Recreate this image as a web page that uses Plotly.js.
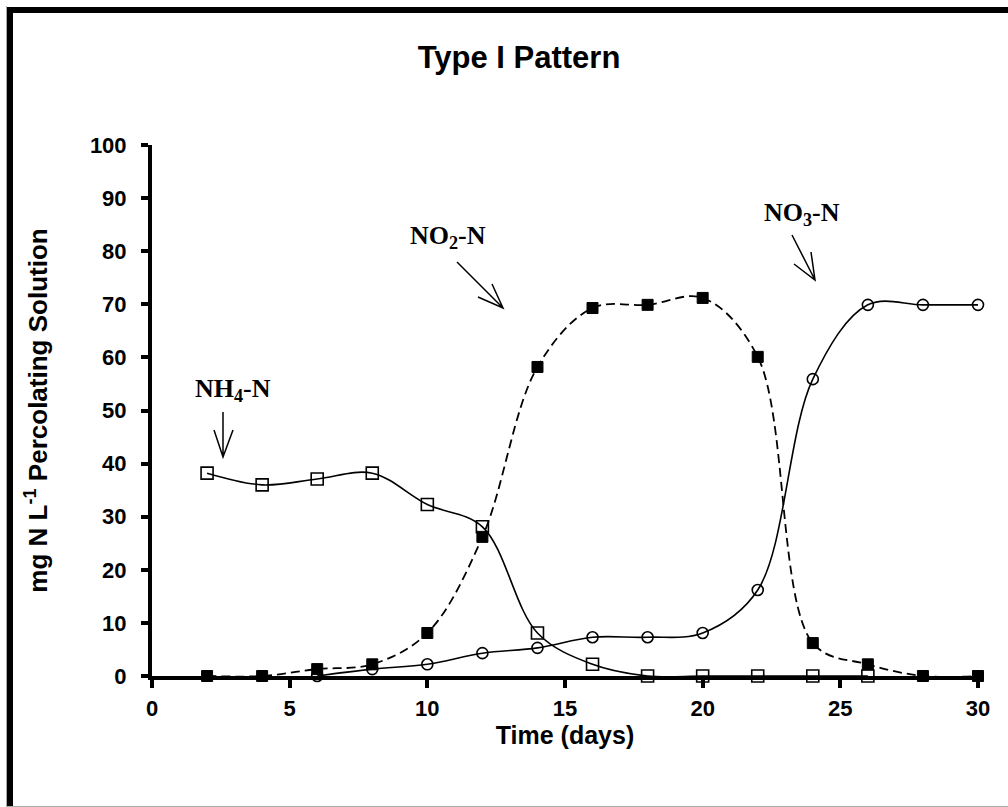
<!DOCTYPE html>
<html>
<head>
<meta charset="utf-8">
<script src="https://cdn.plot.ly/plotly-3.0.1.min.js"></script>
<style>
  html, body { margin: 0; padding: 0; background: #fff; }
  #wrap { position: relative; width: 1008px; height: 807px; }
  #chart { position: absolute; left: 0; top: 0; width: 1008px; height: 807px; }
  #frameOuter { position: absolute; left: 6px; top: 6px; right: 0; bottom: 0;
    border-left: 1px solid #aaa; border-bottom: 1px solid #aaa; pointer-events: none; }
  #frameInner { position: absolute; left: 7px; top: 7px; right: 0; bottom: 1px;
    border-left: 6px solid #000; border-top: 6px solid #000; pointer-events: none; }
</style>
</head>
<body>
<div id="wrap">
  <div id="chart"></div>
  <div id="frameOuter"></div>
  <div id="frameInner"></div>
</div>
<script>
// ---- data ----
var daysNH4 = [2, 4, 6, 8, 10, 12, 14, 16, 18, 20, 22, 24, 26];
var nh4 = [38.2, 36.0, 37.1, 38.2, 32.3, 28.1, 8.1, 2.2, 0, 0, 0, 0, 0];

var daysNO2 = [2, 4, 6, 8, 10, 12, 14, 16, 18, 20, 22, 24, 26, 28, 30];
var no2 = [0, 0, 1.3, 2.2, 8.1, 26.2, 58.2, 69.3, 69.9, 71.2, 60.1, 6.2, 2.2, 0, 0];

var daysNO3 = [6, 8, 10, 12, 14, 16, 18, 20, 22, 24, 26, 28, 30];
var no3 = [0, 1.3, 2.2, 4.3, 5.3, 7.3, 7.3, 8.1, 16.2, 55.9, 69.9, 69.9, 69.9];

var xTicks = [0, 5, 10, 15, 20, 25, 30];
var yTicks = [0, 10, 20, 30, 40, 50, 60, 70, 80, 90, 100];

// ---- layout geometry (pixels) ----
var W = 1008, H = 807, L = 152, R = 30, T = 145, B = 131;
var pw = W - L - R, ph = H - T - B;
function px(x) { return (x - L) / pw; }
function py(y) { return (H - B - y) / ph; }
function arrowPath(x0, y0, x1, y1, ax1, ay1, ax2, ay2) {
  return 'M' + px(x0) + ',' + py(y0) + 'L' + px(x1) + ',' + py(y1) +
         'M' + px(ax1) + ',' + py(ay1) + 'L' + px(x1) + ',' + py(y1) +
         'L' + px(ax2) + ',' + py(ay2);
}

var traces = [
  {
    x: daysNO3, y: no3, name: 'NO3-N', mode: 'lines+markers', cliponaxis: false,
    line: { shape: 'spline', smoothing: 1, color: '#000', width: 1.6 },
    marker: { symbol: 'circle-open', size: 11, color: '#000', line: { width: 1.6, color: '#000' } }
  },
  {
    x: daysNO2, y: no2, name: 'NO2-N', mode: 'lines+markers', cliponaxis: false,
    line: { shape: 'spline', smoothing: 1, color: '#000', width: 1.8, dash: '9px,5px' },
    marker: { symbol: 'square', size: 11, color: '#000', line: { width: 1, color: '#000' } }
  },
  {
    x: daysNH4, y: nh4, name: 'NH4-N', mode: 'lines+markers', cliponaxis: false,
    line: { shape: 'spline', smoothing: 1, color: '#000', width: 1.6 },
    marker: { symbol: 'square-open', size: 12, color: '#000', line: { width: 1.6, color: '#000' } }
  }
];

var sans = 'Liberation Sans, Arial, sans-serif';
var serif = 'Liberation Serif, Times New Roman, serif';
var tickFont = { family: sans, size: 22, color: '#000', weight: 'bold' };

var layout = {
  width: W, height: H,
  margin: { l: L, r: R, t: T, b: B, pad: 0 },
  paper_bgcolor: '#fff', plot_bgcolor: '#fff',
  showlegend: false,
  title: {
    text: '<b>Type I Pattern</b>',
    font: { family: sans, size: 31, color: '#000' },
    x: px(519), xref: 'paper', xanchor: 'center',
    y: 1 - 57 / H, yref: 'container', yanchor: 'middle'
  },
  xaxis: {
    range: [0, 30], tickvals: xTicks, ticktext: xTicks.map(String),
    showgrid: false, zeroline: false,
    showline: true, linecolor: '#000', linewidth: 4,
    ticks: 'outside', ticklen: 8, tickwidth: 4, tickcolor: '#000',
    tickfont: tickFont, ticklabelstandoff: 2,
    title: { text: '<b>Time (days)</b>', standoff: 4,
      font: { family: sans, size: 25, color: '#000' } }
  },
  yaxis: {
    range: [0, 100], tickvals: yTicks, ticktext: yTicks.map(String),
    showgrid: false, zeroline: false,
    showline: true, linecolor: '#000', linewidth: 4,
    ticks: 'outside', ticklen: 7, tickwidth: 4, tickcolor: '#000',
    tickfont: tickFont, ticklabelstandoff: 10,
    title: { text: '<b>mg N L<sup>-1</sup> Percolating Solution</b>', standoff: 36,
      font: { family: sans, size: 26, color: '#000' } }
  },
  annotations: [
    { xref: 'paper', yref: 'paper', x: px(233), y: py(390), showarrow: false,
      text: '<b>NH<sub>4</sub>-N</b>', xanchor: 'center', yanchor: 'middle',
      font: { family: serif, size: 26, color: '#000' } },
    { xref: 'paper', yref: 'paper', x: px(448), y: py(237), showarrow: false,
      text: '<b>NO<sub>2</sub>-N</b>', xanchor: 'center', yanchor: 'middle',
      font: { family: serif, size: 26, color: '#000' } },
    { xref: 'paper', yref: 'paper', x: px(802), y: py(214), showarrow: false,
      text: '<b>NO<sub>3</sub>-N</b>', xanchor: 'center', yanchor: 'middle',
      font: { family: serif, size: 26, color: '#000' } }
  ],
  shapes: [
    { type: 'path', xref: 'paper', yref: 'paper', line: { color: '#000', width: 1.5 },
      path: arrowPath(223, 412, 223, 457, 214, 430, 233, 430) },
    { type: 'path', xref: 'paper', yref: 'paper', line: { color: '#000', width: 1.5 },
      path: arrowPath(457, 262, 503, 308, 478, 297, 492, 284) },
    { type: 'path', xref: 'paper', yref: 'paper', line: { color: '#000', width: 1.5 },
      path: arrowPath(792, 235, 815, 280, 794, 264, 811, 252) }
  ]
};

Plotly.newPlot('chart', traces, layout, { displayModeBar: false, staticPlot: true });
</script>
</body>
</html>
